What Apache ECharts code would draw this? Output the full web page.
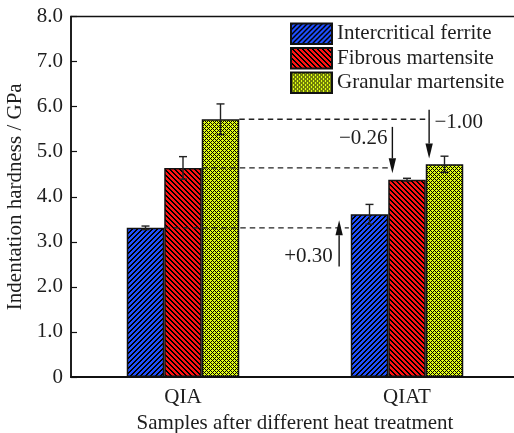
<!DOCTYPE html>
<html>
<head>
<meta charset="utf-8">
<script src="https://cdn.jsdelivr.net/npm/echarts@6/dist/echarts.min.js"></script>
<style>
html,body{margin:0;padding:0;background:#fff;}
#chart{width:514px;height:433px;}
</style>
</head>
<body>
<div id="chart"></div>
<script>
// ---- data ----
const categories = ['QIA', 'QIAT'];
const seriesNames = ['Intercritical ferrite', 'Fibrous martensite', 'Granular martensite'];
const ferrite = [3.31, 3.61];
const fibrous = [4.64, 4.38];
const granular = [5.72, 4.72];
const ferriteErr = [0.04, 0.22];
const fibrousErr = [0.25, 0.03];
const granularErr = [0.34, 0.18];
const yTickLabels = ['0', '1.0', '2.0', '3.0', '4.0', '5.0', '6.0', '7.0', '8.0'];

// annotation values (reference levels and changes QIA -> QIAT)
const refLevels = [3.31, 4.64, 5.72];
const changeLabels = ['+0.30', '\u22120.26', '\u22121.00'];
const arrowTail = [2.45, 5.55, 5.93];
const arrowHead = [3.48, 4.52, 4.85];
const labelLevels = [2.68, 5.30, 5.64];

// ---- layout (bar-width units, relative to category centre) ----
const BW = 37.5;
const refStart = [-0.5, 0.5, 1.5];      // relative to QIA
const refEnd = [-1.55, -0.43, 0.6];      // relative to QIAT
const arrowX = [-1.81, -0.39, 0.59];     // relative to QIAT
const labelX = [-1.98, -0.52, 0.73];     // relative to QIAT
const labelAlign = ['right', 'right', 'left'];

const FONT = 'Liberation Serif, Times New Roman, serif';
const TXT = '#1e1e1e';
const FS = 21;

function pixTile(size, bg, isBlack) {
  const c = document.createElement('canvas');
  c.width = size; c.height = size;
  const g = c.getContext('2d');
  g.fillStyle = bg; g.fillRect(0, 0, size, size);
  g.fillStyle = '#000';
  for (let y = 0; y < size; y++) {
    for (let x = 0; x < size; x++) {
      if (isBlack(x, y)) g.fillRect(x, y, 1, 1);
    }
  }
  return c;
}
const m = (a, n) => ((a % n) + n) % n;

const fills = [
  { image: pixTile(5, '#1f4fff', (x, y) => m(x + y, 5) < 2), repeat: 'repeat' },
  { image: pixTile(5, '#ff1414', (x, y) => m(x - y, 5) < 2), repeat: 'repeat' },
  { image: pixTile(4, '#e2ff14', (x, y) => m(x + y, 4) === 0 || m(x - y, 4) === 0), repeat: 'repeat' }
];
const values = [ferrite, fibrous, granular];
const errors = [ferriteErr, fibrousErr, granularErr];

const series = [];
values.forEach((vals, i) => {
  series.push({
    name: seriesNames[i],
    type: 'bar',
    data: vals,
    barWidth: BW,
    barGap: '0%',
    itemStyle: { color: fills[i], borderColor: '#111', borderWidth: 1.5 },
    z: 2
  });
});
values.forEach((vals, i) => {
  series.push({
    type: 'custom',
    silent: true,
    z: 4,
    data: vals.map((v, k) => [k, v, errors[i][k]]),
    encode: { x: 0, y: 1 },
    renderItem: function (params, api) {
      const off = (i - 1) * BW;
      const top = api.coord([api.value(0), api.value(1) + api.value(2)]);
      const bot = api.coord([api.value(0), api.value(1) - api.value(2)]);
      const x = top[0] + off;
      const st = { stroke: '#222', lineWidth: 1.4 };
      return {
        type: 'group',
        children: [
          { type: 'line', shape: { x1: x, y1: top[1], x2: x, y2: bot[1] }, style: st },
          { type: 'line', shape: { x1: x - 4, y1: top[1], x2: x + 4, y2: top[1] }, style: st },
          { type: 'line', shape: { x1: x - 4, y1: bot[1], x2: x + 4, y2: bot[1] }, style: st }
        ]
      };
    }
  });
});
series.push({
  type: 'custom',
  silent: true,
  z: 5,
  data: refLevels.map((v) => [1, v]),
  encode: { x: 0, y: 1 },
  renderItem: function (params, api) {
    const i = params.dataIndex;
    const a = api.coord([0, refLevels[i]]);
    const b = api.coord([1, refLevels[i]]);
    const ax = b[0] + arrowX[i] * BW;
    const tail = api.coord([1, arrowTail[i]])[1];
    const tip = api.coord([1, arrowHead[i]])[1];
    const dir = tip < tail ? -1 : 1;
    const headLen = 15, halfW = 3.7;
    const lab = api.coord([1, labelLevels[i]]);
    return {
      type: 'group',
      children: [
        { type: 'line',
          shape: { x1: a[0] + refStart[i] * BW, y1: a[1], x2: b[0] + refEnd[i] * BW, y2: b[1] },
          style: { stroke: '#222', lineWidth: 1.3, lineDash: [5.5, 4] } },
        { type: 'line',
          shape: { x1: ax, y1: tail, x2: ax, y2: tip - dir * headLen },
          style: { stroke: '#111', lineWidth: 1.4 } },
        { type: 'polygon',
          shape: { points: [[ax, tip], [ax - halfW, tip - dir * headLen], [ax + halfW, tip - dir * headLen]] },
          style: { fill: '#111' } },
        { type: 'text',
          x: b[0] + labelX[i] * BW, y: lab[1],
          style: { text: changeLabels[i], fill: TXT, font: FS + 'px ' + FONT,
                   align: labelAlign[i], verticalAlign: 'middle' } }
      ]
    };
  }
});

const chart = echarts.init(document.getElementById('chart'), null, { renderer: 'canvas' });
chart.setOption({
  animation: false,
  backgroundColor: '#fff',
  textStyle: { fontFamily: FONT },
  grid: {
    left: 71, top: 16.5, width: 448, height: 360.5,
    outerBoundsMode: 'none',
    containLabel: false,
    show: true, borderColor: '#111', borderWidth: 1.5, backgroundColor: 'transparent'
  },
  legend: {
    orient: 'vertical',
    left: 290, top: 22.5,
    padding: 0,
    itemWidth: 41, itemHeight: 20.5, itemGap: 2,
    icon: 'rect',
    selectedMode: false,
    data: seriesNames,
    textStyle: { fontSize: FS, fontFamily: FONT, color: TXT }
  },
  xAxis: {
    type: 'category',
    data: categories,
    axisLine: { lineStyle: { color: '#111', width: 2 } },
    axisTick: { show: false },
    axisLabel: { fontSize: FS, fontFamily: FONT, color: TXT, margin: 10 },
    name: 'Samples after different heat treatment',
    nameLocation: 'middle',
    nameGap: 34,
    nameTextStyle: { fontSize: FS, fontFamily: FONT, color: TXT }
  },
  yAxis: {
    type: 'value',
    min: 0, max: 8, interval: 1,
    splitLine: { show: false },
    axisLine: { show: true, lineStyle: { color: '#111', width: 1.5 } },
    axisTick: { show: true, inside: true, length: 6, lineStyle: { color: '#111', width: 1.2 } },
    axisLabel: {
      fontSize: FS, fontFamily: FONT, color: TXT, margin: 8,
      formatter: function (v) { return yTickLabels[Math.round(v)]; }
    },
    name: 'Indentation hardness / GPa',
    nameLocation: 'middle',
    nameRotate: 90,
    nameGap: 40,
    nameTextStyle: { fontSize: FS, fontFamily: FONT, color: TXT }
  },
  series: series
});
</script>
</body>
</html>
